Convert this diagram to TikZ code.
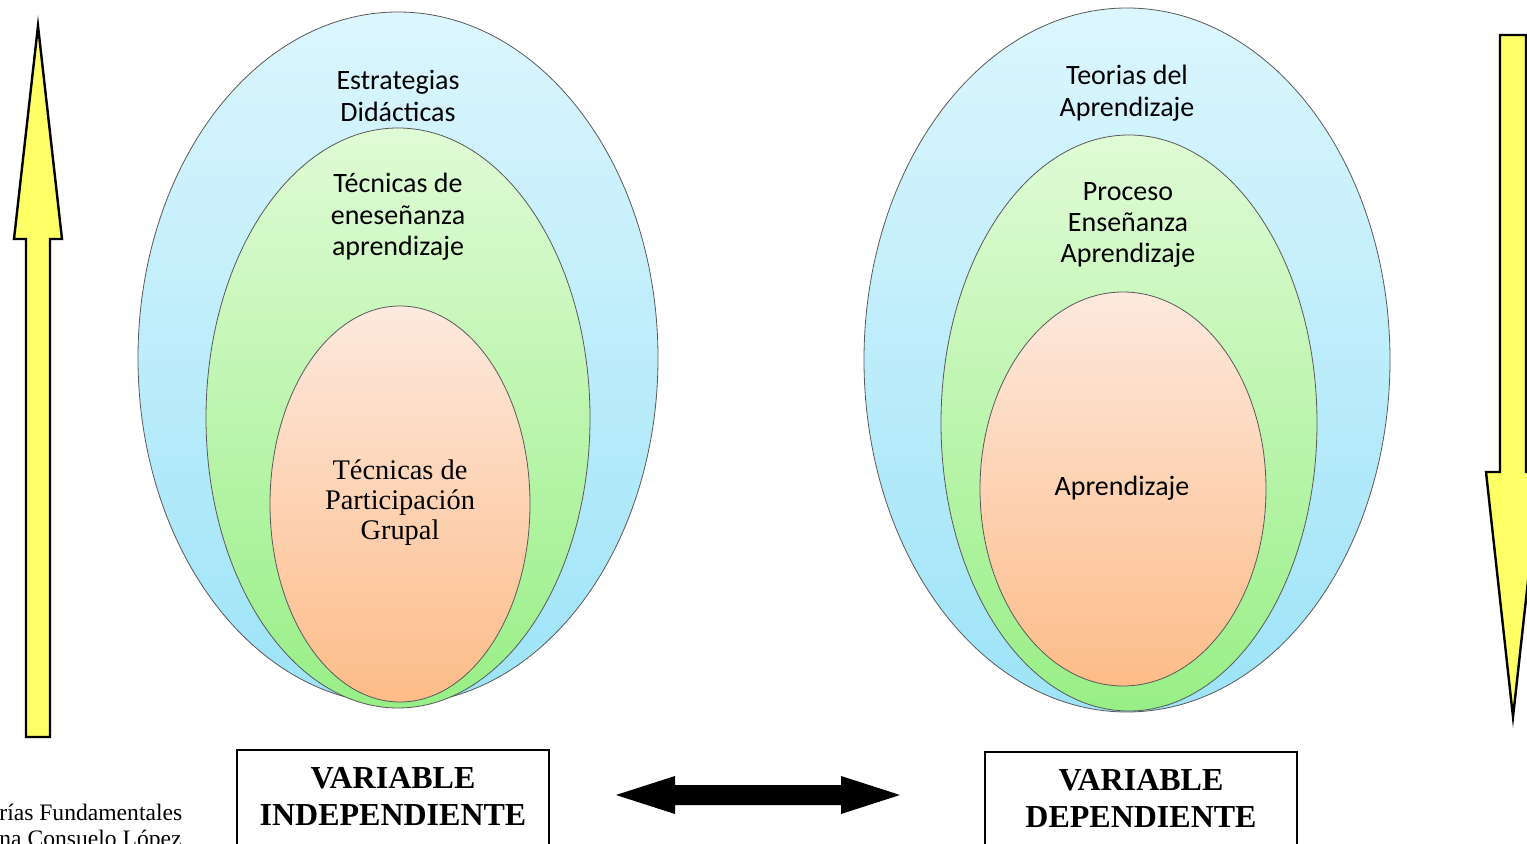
\documentclass[tikz,border=0pt]{standalone}
\usepackage{fontspec}
\setmainfont{Liberation Serif}
\newfontfamily\calibri{Carlito}
\usetikzlibrary{positioning}

\definecolor{bluetop}{HTML}{DCF6FD}
\definecolor{bluebot}{HTML}{9DE3F8}
\definecolor{greentop}{HTML}{E0FBD6}
\definecolor{greenbot}{HTML}{98EF86}
\definecolor{orangetop}{HTML}{FDE9DE}
\definecolor{orangebot}{HTML}{FDBC88}
\definecolor{arrowyellow}{HTML}{FFFF66}

\tikzset{
	eggline/.style={draw=black!65, line width=0.4pt},
	blueegg/.style={eggline, top color=bluetop, bottom color=bluebot},
	greenegg/.style={eggline, top color=greentop, bottom color=greenbot},
	orangeegg/.style={eggline, top color=orangetop, bottom color=orangebot},
	lbl/.style={font=\calibri\fontsize{14}{15.7}\selectfont, align=center, inner sep=0pt},
	serlbl/.style={font=\fontsize{14.2}{15}\selectfont, align=center, inner sep=0pt},
	varbox/.style={draw, line width=0.8pt, anchor=north, minimum width=156pt, minimum height=56pt,
		text depth=20pt, inner ysep=9pt, align=center, font=\bfseries\fontsize{16}{18.5}\selectfont},
	bigarrow/.style={draw, line width=1.2pt, fill=arrowyellow, line join=miter}
}

\begin{document}
\begin{tikzpicture}[x=0.5pt, y=-0.5pt]
	
	\clip (0,0) rectangle (1527,844);
	
	% left group
	\path[blueegg] (398,358) ellipse [x radius=260, y radius=346];
	\path[greenegg] (398,418) ellipse [x radius=192, y radius=290];
	\path[orangeegg] (400,504) ellipse [x radius=130, y radius=198];
	
	\node[lbl] (estrategias) at (398,96) {Estrategias\\Didácticas};
	\node[lbl] (tecnicas) at (398,217) {Técnicas de\\eneseñanza\\aprendizaje};
	\node[serlbl] (participacion) at (400,503) {Técnicas de\\Participación\\Grupal};
	
	% right group
	\path[blueegg] (1127,360) ellipse [x radius=263, y radius=352];
	\path[greenegg] (1129,423) ellipse [x radius=188, y radius=288];
	\path[orangeegg] (1123,489) ellipse [x radius=143, y radius=197];
	
	\node[lbl] (teorias) at (1127,93) {Teorias del\\Aprendizaje};
	\node[lbl] (proceso) at (1128,225) {Proceso\\Enseñanza\\Aprendizaje};
	\node[lbl] (aprendizaje) at (1122,488) {Aprendizaje};
	
	% yellow arrows
	\draw[bigarrow] (38,26) -- (62,239) -- (50,239) -- (50,737) -- (26,737) -- (26,239) -- (14,239) -- cycle;
	\draw[bigarrow] (1513,717) -- (1540,472) -- (1526,472) -- (1526,35) -- (1500,35) -- (1500,472) -- (1486,472) -- cycle;
	
	% variables
	\node[varbox] (indep) at (393,749) {VARIABLE\\INDEPENDIENTE};
	\node[varbox] (dep) at (1141,751) {VARIABLE\\DEPENDIENTE};
	
	\fill (616,795) -- (675,776) -- (675,785) -- (841,785) -- (841,776) -- (900,795)
		-- (841,814) -- (841,805) -- (675,805) -- (675,814) -- cycle;
	
	% source note
	\node[anchor=north west, align=left, inner sep=0pt, font=\fontsize{11.8}{12.7}\selectfont] (fuente) at (-1,804)
		{rías Fundamentales\\na Consuelo López};
	
\end{tikzpicture}
\end{document}
